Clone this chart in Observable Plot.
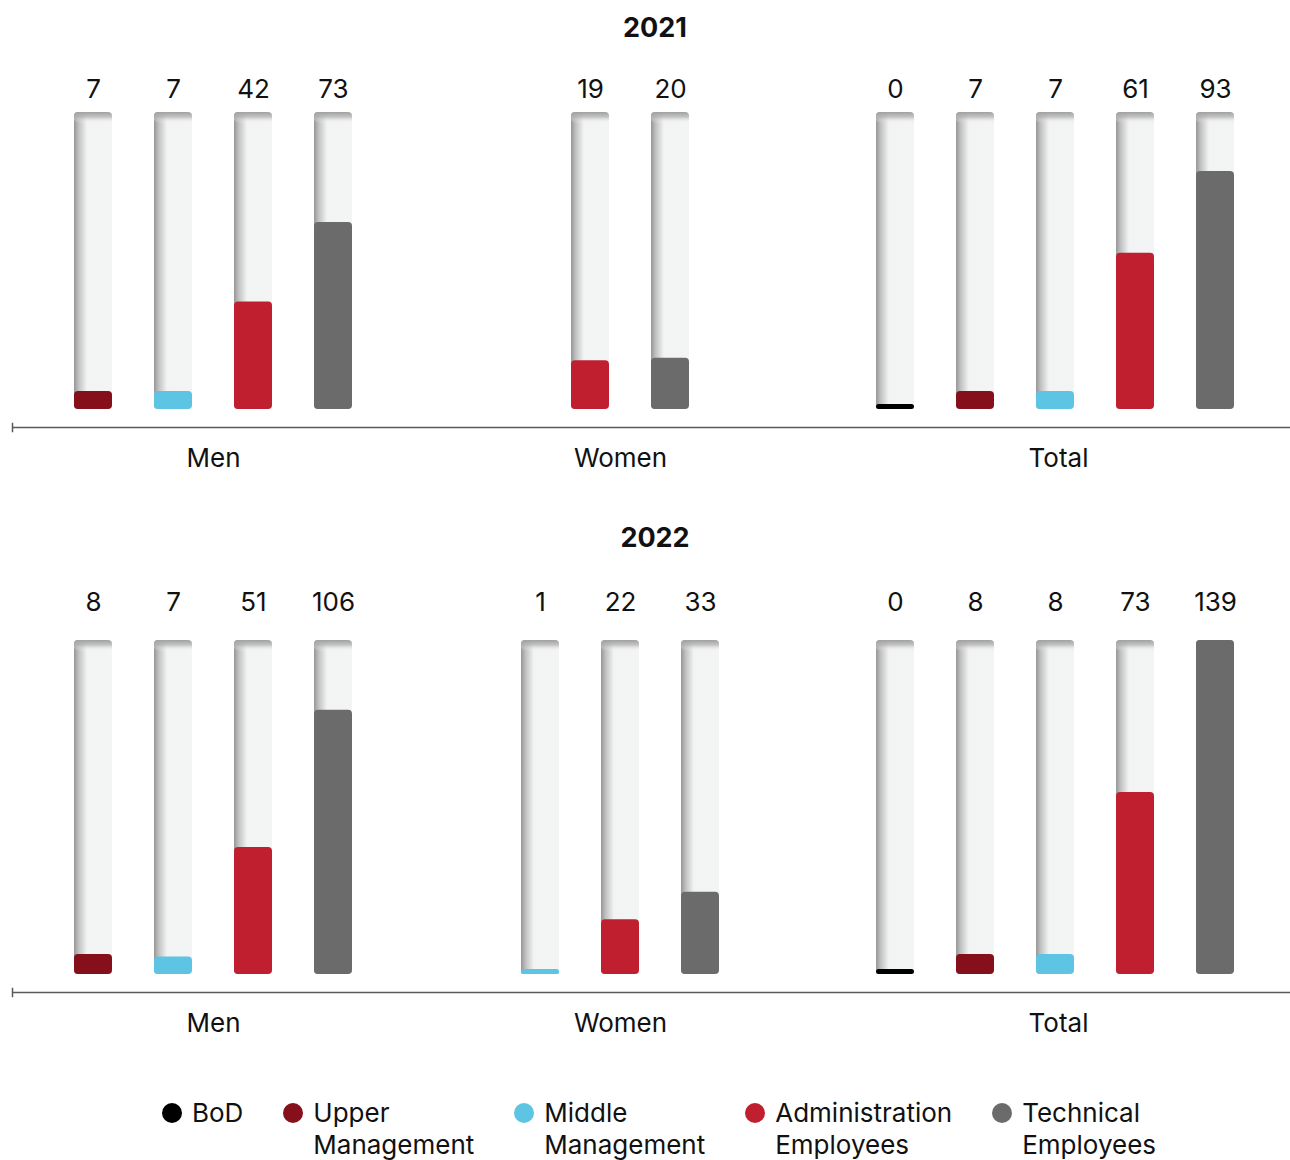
<!DOCTYPE html>
<html>
<head>
<meta charset="utf-8">
<script src="https://cdn.jsdelivr.net/npm/d3@7"></script>
<script src="https://cdn.jsdelivr.net/npm/@observablehq/plot@0.6"></script>
<style>
  body { margin: 0; background: #fff; font-family: Inter, "Noto Sans", sans-serif; color: #111; }
  #root { width: 1290px; }
  .title { text-align: center; font-weight: 700; font-size: 27px; height: 56px; line-height: 56px; padding-left: 20px; }
  .row { display: flex; padding-left: 12px; }
  .row svg { display: block; overflow: visible; }
  .legend { display: flex; justify-content: center; gap: 40px; margin-top: 48px; font-size: 26px; line-height: 32px; padding-left: 28px; }
  .item { display: flex; align-items: flex-start; }
  .dot { width: 20px; height: 20px; border-radius: 50%; margin-top: 6px; margin-right: 10px; flex: none; }
</style>
</head>
<body>
<svg width="0" height="0" style="position:absolute">
  <defs>
    <linearGradient id="trackH" x1="0" y1="0" x2="1" y2="0">
      <stop offset="0" stop-color="#969696"/>
      <stop offset="0.12" stop-color="#c0c0c0"/>
      <stop offset="0.34" stop-color="#f2f4f3"/>
      <stop offset="1" stop-color="#f3f4f3"/>
    </linearGradient>
    <linearGradient id="trackV" x1="0" y1="0" x2="0" y2="1">
      <stop offset="0" stop-color="#a0a0a0" stop-opacity="1"/>
      <stop offset="0.45" stop-color="#b3b3b3" stop-opacity="0.75"/>
      <stop offset="1" stop-color="#f3f4f3" stop-opacity="0"/>
    </linearGradient>
  </defs>
</svg>
<div id="root"></div>
<script>
// ---- data ----
const categories = ["BoD", "Upper Management", "Middle Management", "Administration Employees", "Technical Employees"];
const colors = ["#000000", "#850f1b", "#5ec4e3", "#c01f30", "#6b6b6b"];
const groups = ["Men", "Women", "Total"];
const years = ["2021", "2022"];
const men2021   = [null, 7, 7, 42, 73];
const women2021 = [null, null, null, 19, 20];
const total2021 = [0, 7, 7, 61, 93];
const men2022   = [null, 8, 7, 51, 106];
const women2022 = [null, null, 1, 22, 33];
const total2022 = [0, 8, 8, 73, 139];

const series = {
  "2021": {Men: men2021, Women: women2021, Total: total2021},
  "2022": {Men: men2022, Women: women2022, Total: total2022}
};

// ---- layout ----
const STEP = 80.7, BARW = 38;
const PI = 1 - BARW / STEP;
const plotWidths = {Men: 402, Women: 412, Total: 464};
const cfgs = {
  "2021": {yMax: 116, marginTop: 56, marginBottom: 75, trackH: 297, labelDy: -23, titleMargin: 0, shift: {Men: 0, Women: 10, Total: -3}},
  "2022": {yMax: 134, marginTop: 74, marginBottom: 75, trackH: 334, labelDy: -38, titleMargin: 26, shift: {Men: 0, Women: 0, Total: -3}}
};

const root = document.getElementById("root");

function makePlot(year, group) {
  const cfg = cfgs[year];
  const vals = series[year][group];
  const data = categories.map((c, i) => ({category: c, value: vals[i]})).filter(d => d.value !== null);
  const domain = data.map(d => d.category);
  const W = plotWidths[group];
  const inset = (W - STEP * domain.length) / 2;
  const s = cfg.shift[group];
  const marks = [
    Plot.barY(data, {x: "category", y1: 0, y2: cfg.yMax, fill: "url(#trackH)", rx: 4}),
    Plot.barY(data, {x: "category", y1: cfg.yMax, y2: cfg.yMax, insetBottom: -11, fill: "url(#trackV)", rx: 4}),
    Plot.barY(data, {x: "category", y1: 0, y2: "value", fill: "category", rx: 4}),
    Plot.barY(data.filter(d => d.value < 2), {x: "category", y1: 0, y2: 0, insetTop: -5, fill: "category", rx: 2.5}),
    Plot.text(data, {x: "category", frameAnchor: "top", lineAnchor: "middle", dy: cfg.labelDy, text: d => String(d.value), fontSize: 26, fill: "#111"}),
    Plot.ruleY([0], {dy: 18, stroke: "#5a5a5a", strokeWidth: 1.5}),
    Plot.text([group], {frameAnchor: "bottom", lineAnchor: "middle", textAnchor: "middle", dy: 49, text: d => d, fontSize: 26, fill: "#111"})
  ];
  if (group === groups[0]) {
    marks.push(Plot.frame({anchor: "left", insetTop: cfg.trackH + 14, insetBottom: -22, stroke: "#5a5a5a", strokeWidth: 1.5}));
  }
  return Plot.plot({
    width: W,
    height: cfg.marginTop + cfg.trackH + cfg.marginBottom,
    marginTop: cfg.marginTop,
    marginBottom: cfg.marginBottom,
    marginLeft: 0,
    marginRight: 0,
    x: {type: "band", domain, paddingInner: PI, paddingOuter: PI / 2, insetLeft: inset + s, insetRight: inset - s, axis: null},
    y: {domain: [0, cfg.yMax], clamp: true, axis: null},
    color: {domain: categories, range: colors},
    style: {fontFamily: "Inter, 'Noto Sans', sans-serif", fontSize: "26px", background: "transparent", overflow: "visible"},
    marks
  });
}

for (const year of years) {
  const t = document.createElement("div");
  t.className = "title";
  t.style.marginTop = cfgs[year].titleMargin + "px";
  t.textContent = year;
  root.appendChild(t);
  const row = document.createElement("div");
  row.className = "row";
  for (const g of groups) row.appendChild(makePlot(year, g));
  root.appendChild(row);
}

const legend = document.createElement("div");
legend.className = "legend";
categories.forEach((c, i) => {
  const item = document.createElement("div");
  item.className = "item";
  const dot = document.createElement("span");
  dot.className = "dot";
  dot.style.background = colors[i];
  const label = document.createElement("span");
  const words = c.split(" ");
  label.innerHTML = words.length > 1 ? words[0] + "<br>" + words.slice(1).join(" ") : c;
  item.appendChild(dot);
  item.appendChild(label);
  legend.appendChild(item);
});
root.appendChild(legend);
</script>
</body>
</html>
